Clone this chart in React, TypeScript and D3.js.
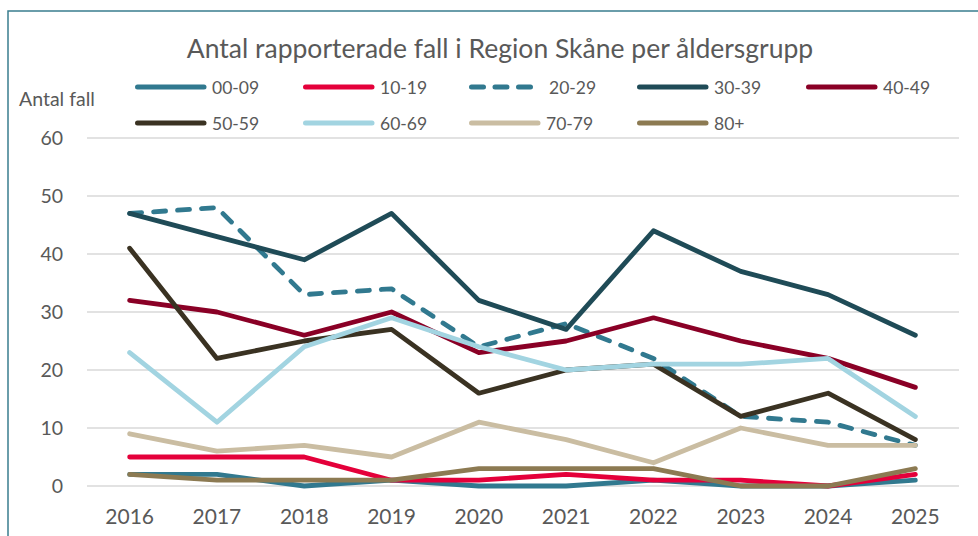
import * as d3 from 'd3';

const years = ['2016', '2017', '2018', '2019', '2020', '2021', '2022', '2023', '2024', '2025'];
const yTicks = [0, 10, 20, 30, 40, 50, 60];

const groups = ['00-09', '10-19', '20-29', '30-39', '40-49', '50-59', '60-69', '70-79', '80+'];
const colors = ['#31798f', '#e4003a', '#31798f', '#1f4b57', '#8a0026', '#3a3222', '#a2d4e1', '#cabda2', '#8c7a52'];
const dashed = [false, false, true, false, false, false, false, false, false];

const v0009 = [2, 2, 0, 1, 0, 0, 1, 0, 0, 1];
const v1019 = [5, 5, 5, 1, 1, 2, 1, 1, 0, 2];
const v2029 = [47, 48, 33, 34, 24, 28, 22, 12, 11, 7];
const v3039 = [47, 43, 39, 47, 32, 27, 44, 37, 33, 26];
const v4049 = [32, 30, 26, 30, 23, 25, 29, 25, 22, 17];
const v5059 = [41, 22, 25, 27, 16, 20, 21, 12, 16, 8];
const v6069 = [23, 11, 24, 29, 24, 20, 21, 21, 22, 12];
const v7079 = [9, 6, 7, 5, 11, 8, 4, 10, 7, 7];
const v80 = [2, 1, 1, 1, 3, 3, 3, 0, 0, 3];

const seriesValues = [v0009, v1019, v2029, v3039, v4049, v5059, v6069, v7079, v80];

const W = 978;
const H = 536;
const font = 'Lato, "Open Sans", sans-serif';
const textCol = '#595959';

export default function App() {
  const x = d3.scalePoint<string>().domain(years).range([86, 959]).padding(0.5);
  const y = d3.scaleLinear().domain([0, 60]).range([486, 138]);
  const line = d3.line<number>()
    .x((_, i) => x(years[i])!)
    .y(d => y(d));

  const legendX = [135, 303, 469, 637, 806];
  const legendY = [87, 123];

  return (
    <svg width={W} height={H} style={{ position: 'absolute', left: 0, top: 0 }}>
      <rect x={0} y={0} width={W} height={H} fill="#fff" />
      <rect x={8} y={11} width={W + 20} height={H + 20} fill="none" stroke="#3a7d8f" strokeWidth={1.5} />

      <text x={500} y={58} textAnchor="middle" fontFamily={font} fontSize={26.5} fill={textCol}>
        Antal rapporterade fall i Region Skåne per åldersgrupp
      </text>
      <text x={19} y={106} fontFamily={font} fontSize={19.5} fill={textCol}>Antal fall</text>

      {yTicks.map(t => (
        <g key={t}>
          <line x1={87} x2={959} y1={y(t)} y2={y(t)} stroke="#d9d9d9" strokeWidth={1.5} />
          <text x={63} y={y(t) + 7} textAnchor="end" fontFamily={font} fontSize={19.5} fill={textCol}>{t}</text>
        </g>
      ))}

      {years.map(yr => (
        <text key={yr} x={x(yr)!} y={524} textAnchor="middle" fontFamily={font} fontSize={21} fill={textCol}>{yr}</text>
      ))}

      {seriesValues.map((vals, i) => (
        <path key={groups[i]} d={line(vals)!} fill="none" stroke={colors[i]} strokeWidth={4.8}
          strokeLinecap="round" strokeLinejoin="round"
          strokeDasharray={dashed[i] ? '12,12' : undefined} />
      ))}

      {groups.map((g, i) => {
        const lx = legendX[i % 5];
        const ly = legendY[Math.floor(i / 5)];
        return (
          <g key={g}>
            <line x1={lx + 2.5} x2={lx + 69} y1={ly} y2={ly} stroke={colors[i]} strokeWidth={5}
              strokeLinecap="round" strokeDasharray={dashed[i] ? '12,11.5' : undefined} />
            <text x={lx + (dashed[i] ? 80 : 77)} y={ly + 6.5} fontFamily={font} fontSize={17.5} fill={textCol}>{g}</text>
          </g>
        );
      })}
    </svg>
  );
}
